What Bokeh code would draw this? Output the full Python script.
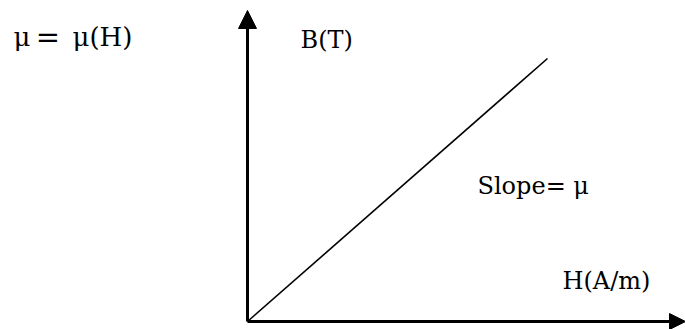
from bokeh.plotting import figure
from bokeh.models import Range1d, Arrow, NormalHead
from bokeh.core.properties import value
from bokeh.embed import file_html
from bokeh.resources import INLINE

# Axis extents (data units) and the linear B-H relation
H_axis = [0, 438]
B_axis = [0, 311]
H_line = [0, 300]
B_line = [0, 263]

title_parts = ["μ", "=", "μ(H)"]
B_label = "B(T)"
H_label = "H(A/m)"
slope_label = "Slope= μ"

p = figure(width=685, height=329, output_backend="svg", toolbar_location=None,
           x_range=Range1d(-247, 438), y_range=Range1d(-8, 321),
           min_border=0, background_fill_color="white", border_fill_color="white")
p.xaxis.visible = False
p.yaxis.visible = False
p.grid.visible = False
p.outline_line_color = None

# axes with arrowheads
p.add_layout(Arrow(end=NormalHead(size=18, fill_color="black", line_color="black", line_width=1),
                   x_start=H_axis[0], y_start=B_axis[0], x_end=H_axis[0], y_end=B_axis[1],
                   line_width=3, line_color="black"))
p.add_layout(Arrow(end=NormalHead(size=16, fill_color="black", line_color="black", line_width=1),
                   x_start=H_axis[0], y_start=B_axis[0], x_end=H_axis[1], y_end=B_axis[0],
                   line_width=3, line_color="black"))

# B = mu H line
p.line(H_line, B_line, line_color="black", line_width=1.6)

font = value("DejaVu Serif")
common = dict(text_font=font, text_color="black", text_baseline="alphabetic")
p.text(x=[-234], y=[285], text=[title_parts[0]], text_font_size="26px", text_align="left", **common)
p.text(x=[-199.5], y=[285], text=[title_parts[1]], text_font_size="29px", text_align="center", **common)
p.text(x=[-175], y=[285], text=[title_parts[2]], text_font_size="26px", text_align="left", **common)
p.text(x=[53], y=[282], text=[B_label], text_font_size="24px", text_align="left", **common)
p.text(x=[230], y=[136], text=[slope_label], text_font_size="24px", text_align="left", **common)
p.text(x=[315], y=[41], text=[H_label], text_font_size="24px", text_align="left", **common)

open("out.html", "w").write(file_html(p, INLINE))
